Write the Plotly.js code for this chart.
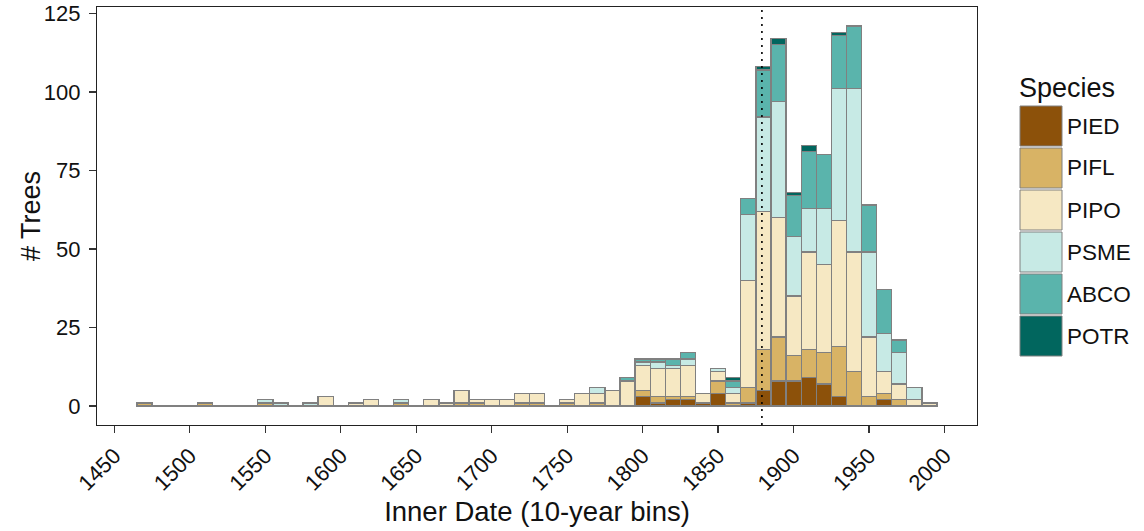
<!DOCTYPE html>
<html>
<head>
<meta charset="utf-8">
<script src="https://cdn.plot.ly/plotly-3.0.1.min.js"></script>
<style>
  html, body { margin: 0; padding: 0; background: #ffffff; }
  #chart { width: 1144px; height: 531px; }
</style>
</head>
<body>
<div id="chart"></div>
<script>
// 10-year bin centres (inner date)
const bins = [1470,1480,1490,1500,1510,1520,1530,1540,1550,1560,
              1570,1580,1590,1600,1610,1620,1630,1640,1650,1660,
              1670,1680,1690,1700,1710,1720,1730,1740,1750,1760,
              1770,1780,1790,1800,1810,1820,1830,1840,1850,1860,
              1870,1880,1890,1900,1910,1920,1930,1940,1950,1960,
              1970,1980,1990];

// tree counts per bin, one array per species
const PIED = [0,0,0,0,0,0,0,0,0,0, 0,0,0,0,0,0,0,0,0,0, 0,0,0,0,0,0,0,0,0,0,
              0,0,0,3,1,2,2,1,4,0, 1,5,8,8,9,7,3,0,0,2, 0,0,0];
const PIFL = [1,0,0,0,1,0,0,0,1,0, 0,0,0,0,0,0,0,1,0,0, 0,1,1,0,0,1,1,0,1,0,
              1,0,0,2,2,1,1,0,4,1, 5,13,14,8,9,10,16,11,3,2, 2,0,0];
const PIPO = [0,0,0,0,0,0,0,0,0,0, 0,0,3,0,1,2,0,0,0,2, 1,4,1,2,2,3,3,0,1,4,
              3,5,8,8,9,9,10,3,3,3, 34,44,38,19,31,28,40,38,19,7, 5,2,1];
const PSME = [0,0,0,0,0,0,0,0,1,1, 0,1,0,0,0,0,0,1,0,0, 0,0,0,0,0,0,0,0,0,0,
              2,0,0,1,2,1,2,0,1,2, 21,30,37,19,14,18,42,52,27,12, 10,4,0];
const ABCO = [0,0,0,0,0,0,0,0,0,0, 0,0,0,0,0,0,0,0,0,0, 0,0,0,0,0,0,0,0,0,0,
              0,0,1,1,1,2,2,0,0,2, 5,15,18,13,18,17,17,20,15,14, 4,0,0];
const POTR = [0,0,0,0,0,0,0,0,0,0, 0,0,0,0,0,0,0,0,0,0, 0,0,0,0,0,0,0,0,0,0,
              0,0,0,0,0,0,0,0,0,1, 0,1,2,1,2,0,1,0,0,0, 0,0,0];

const species = ["PIED", "PIFL", "PIPO", "PSME", "ABCO", "POTR"];
const counts  = [PIED, PIFL, PIPO, PSME, ABCO, POTR];
const colors  = ["#8c510a", "#d8b365", "#f6e8c3", "#c7eae5", "#5ab4ac", "#01665e"];

const binWidth = 10;
const markerYear = 1879;   // dotted reference line
const yTicks = [0, 25, 50, 75, 100, 125];
const xTicks = [1450, 1500, 1550, 1600, 1650, 1700, 1750, 1800, 1850, 1900, 1950, 2000];

const outline = "#808080";
const font = "Arial, 'Liberation Sans', sans-serif";
const textColor = "#111111";

// stacked bars, bottom to top in species order
const traces = species.map((sp, i) => ({
  type: "bar",
  name: sp,
  x: bins,
  y: counts[i].map(v => (v === 0 ? null : v)),
  width: binWidth,
  marker: { color: colors[i], line: { color: outline, width: 1.3 } },
  showlegend: false,
  hoverinfo: "x+y+name"
}));

// empty bins still show an outline along zero
traces.unshift({
  type: "scatter",
  mode: "lines",
  x: [bins[0] - binWidth / 2, bins[bins.length - 1] + binWidth / 2],
  y: [0, 0],
  line: { color: outline, width: 1.8 },
  showlegend: false,
  hoverinfo: "skip"
});

// y range with 5% padding on both sides of the tallest stack
const totals = bins.map((_, j) => counts.reduce((s, arr) => s + arr[j], 0));
const yMax = Math.max(...totals);
const xMin = bins[0] - binWidth / 2, xMax = bins[bins.length - 1] + binWidth / 2;
const xPad = (xMax - xMin) * 0.05;

// plot-area geometry in pixels
const W = 1144, H = 531;
const m = { l: 97, r: 167, t: 7, b: 106 };
const plotW = W - m.l - m.r, plotH = H - m.t - m.b;
const px2x = X => (X - m.l) / plotW;
const px2y = Y => (H - m.b - Y) / plotH;

const shapes = [{
  type: "line", xref: "x", yref: "paper",
  x0: markerYear, x1: markerYear, y0: 0, y1: 1,
  line: { color: "#000000", width: 1.6, dash: "2px,5px" }
}];
const annotations = [
  {
    // y-axis title
    xref: "paper", yref: "paper",
    x: px2x(31), y: 0.5,
    xanchor: "center", yanchor: "middle",
    textangle: -90,
    text: "# Trees", showarrow: false,
    font: { family: font, size: 27, color: textColor }
  },
  {
    xref: "paper", yref: "paper",
    x: px2x(1017), y: px2y(88),
    xanchor: "left", yanchor: "middle",
    text: "Species", showarrow: false,
    font: { family: font, size: 27, color: textColor }
  }
];

// legend keys
const keyX0 = 1020, keyX1 = 1062, keyTop = 106, keyStep = 42, keyH = 40;
species.forEach((sp, i) => {
  const top = keyTop + i * keyStep;
  shapes.push({
    type: "rect", xref: "paper", yref: "paper",
    x0: px2x(keyX0), x1: px2x(keyX1), y0: px2y(top + keyH), y1: px2y(top),
    fillcolor: colors[i], line: { color: outline, width: 1 }
  });
  annotations.push({
    xref: "paper", yref: "paper",
    x: px2x(keyX1 + 3), y: px2y(top + keyH / 2),
    xanchor: "left", yanchor: "middle",
    text: sp, showarrow: false,
    font: { family: font, size: 22.5, color: textColor }
  });
});

const layout = {
  width: W, height: H,
  margin: m,
  paper_bgcolor: "#ffffff",
  plot_bgcolor: "#ffffff",
  barmode: "stack",
  bargap: 0,
  showlegend: false,
  font: { family: font, color: textColor },
  xaxis: {
    range: [xMin - xPad, xMax + xPad],
    tickvals: xTicks,
    ticktext: xTicks.map(String),
    tickangle: -45,
    ticks: "outside", ticklen: 7, tickwidth: 1.3, tickcolor: "#333333",
    ticklabelstandoff: 1,
    tickfont: { family: font, size: 22, color: textColor },
    showgrid: false, zeroline: false,
    showline: true, mirror: true, linecolor: "#222222", linewidth: 1.2,
    title: { text: "Inner Date (10-year bins)", font: { family: font, size: 27.5, color: textColor }, standoff: 7 }
  },
  yaxis: {
    range: [-yMax * 0.05, yMax * 1.05],
    tickvals: yTicks,
    ticktext: yTicks.map(String),
    ticks: "outside", ticklen: 7, tickwidth: 1.3, tickcolor: "#333333",
    ticklabelstandoff: 4,
    tickfont: { family: font, size: 22, color: textColor },
    showgrid: false, zeroline: false,
    showline: true, mirror: true, linecolor: "#222222", linewidth: 1.2
  },
  shapes: shapes,
  annotations: annotations
};

Plotly.newPlot("chart", traces, layout, { displayModeBar: false, staticPlot: true });
</script>
</body>
</html>
